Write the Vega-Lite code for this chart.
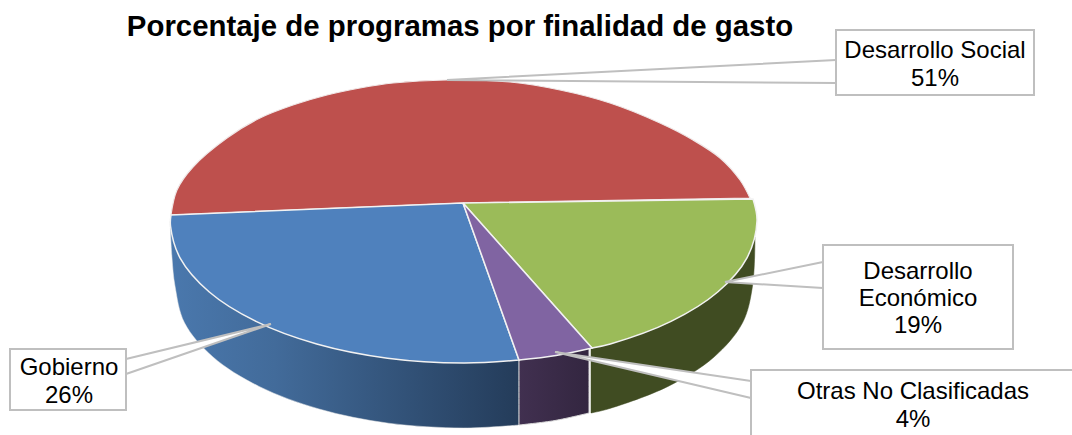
{"$schema":"https://vega.github.io/schema/vega-lite/v6.json","width":1072,"height":435,"padding":0,"autosize":"none","background":"white","view":{"stroke":null},
"title":{"text":"Porcentaje de programas por finalidad de gasto","frame":"group","anchor":"middle","dx":-76,"dy":46,"font":"Liberation Sans","fontSize":29.4,"fontWeight":"bold","color":"#000000"},
"datasets":{
"outline":[
{"s":"BlueSide","i":1,"x":170,"y":221},{"s":"BlueSide","i":2,"x":170,"y":221},{"s":"BlueSide","i":3,"x":172,"y":258},{"s":"BlueSide","i":4,"x":175,"y":286},{"s":"BlueSide","i":5,"x":184.5,"y":322.8},{"s":"BlueSide","i":6,"x":213,"y":357},{"s":"BlueSide","i":7,"x":259,"y":386.4},{"s":"BlueSide","i":8,"x":319,"y":409},{"s":"BlueSide","i":9,"x":388.5,"y":423.2},{"s":"BlueSide","i":10,"x":463.5,"y":428},{"s":"BlueSide","i":11,"x":519,"y":425},{"s":"BlueSide","i":12,"x":519,"y":425},{"s":"BlueSide","i":13,"x":519,"y":360},{"s":"BlueSide","i":14,"x":519,"y":360},
{"s":"PurpleSide","i":1,"x":519,"y":360},{"s":"PurpleSide","i":2,"x":519,"y":360},{"s":"PurpleSide","i":3,"x":589,"y":348},{"s":"PurpleSide","i":4,"x":589,"y":348},{"s":"PurpleSide","i":5,"x":589,"y":413},{"s":"PurpleSide","i":6,"x":589,"y":413},{"s":"PurpleSide","i":7,"x":555,"y":420.5},{"s":"PurpleSide","i":8,"x":519,"y":425},{"s":"PurpleSide","i":9,"x":519,"y":425},{"s":"PurpleSide","i":10,"x":519,"y":360},{"s":"PurpleSide","i":11,"x":519,"y":360},
{"s":"GreenSide","i":1,"x":755,"y":237},{"s":"GreenSide","i":2,"x":755,"y":237},{"s":"GreenSide","i":3,"x":752.5,"y":286},{"s":"GreenSide","i":4,"x":742.5,"y":322.8},{"s":"GreenSide","i":5,"x":714,"y":357},{"s":"GreenSide","i":6,"x":668,"y":386.4},{"s":"GreenSide","i":7,"x":608,"y":409},{"s":"GreenSide","i":8,"x":591,"y":413},{"s":"GreenSide","i":9,"x":591,"y":413},{"s":"GreenSide","i":10,"x":591,"y":348},{"s":"GreenSide","i":11,"x":591,"y":348},
{"s":"Desarrollo Social","i":1,"x":463,"y":203},{"s":"Desarrollo Social","i":2,"x":463,"y":203},{"s":"Desarrollo Social","i":3,"x":171,"y":215},{"s":"Desarrollo Social","i":4,"x":171,"y":215},{"s":"Desarrollo Social","i":5,"x":177,"y":190},{"s":"Desarrollo Social","i":6,"x":193,"y":167},{"s":"Desarrollo Social","i":7,"x":227,"y":138},{"s":"Desarrollo Social","i":8,"x":260,"y":118},{"s":"Desarrollo Social","i":9,"x":293,"y":105},{"s":"Desarrollo Social","i":10,"x":327,"y":95},{"s":"Desarrollo Social","i":11,"x":360,"y":88},{"s":"Desarrollo Social","i":12,"x":393,"y":83},{"s":"Desarrollo Social","i":13,"x":447,"y":80},{"s":"Desarrollo Social","i":14,"x":510,"y":82},{"s":"Desarrollo Social","i":15,"x":560,"y":90},{"s":"Desarrollo Social","i":16,"x":610,"y":103},{"s":"Desarrollo Social","i":17,"x":660,"y":123},{"s":"Desarrollo Social","i":18,"x":693,"y":140},{"s":"Desarrollo Social","i":19,"x":720,"y":158},{"s":"Desarrollo Social","i":20,"x":740,"y":180},{"s":"Desarrollo Social","i":21,"x":750,"y":198},{"s":"Desarrollo Social","i":22,"x":750,"y":198},{"s":"Desarrollo Social","i":23,"x":463,"y":203},{"s":"Desarrollo Social","i":24,"x":463,"y":203},
{"s":"Gobierno","i":1,"x":463,"y":203},{"s":"Gobierno","i":2,"x":463,"y":203},{"s":"Gobierno","i":3,"x":519,"y":360},{"s":"Gobierno","i":4,"x":519,"y":360},{"s":"Gobierno","i":5,"x":463.5,"y":363},{"s":"Gobierno","i":6,"x":387.5,"y":358.2},{"s":"Gobierno","i":7,"x":316.7,"y":344},{"s":"Gobierno","i":8,"x":256,"y":321.4},{"s":"Gobierno","i":9,"x":209.3,"y":292},{"s":"Gobierno","i":10,"x":180,"y":257.8},{"s":"Gobierno","i":11,"x":170.5,"y":226},{"s":"Gobierno","i":12,"x":171,"y":215},{"s":"Gobierno","i":13,"x":171,"y":215},{"s":"Gobierno","i":14,"x":463,"y":203},{"s":"Gobierno","i":15,"x":463,"y":203},
{"s":"Otras No Clasificadas","i":1,"x":463,"y":203},{"s":"Otras No Clasificadas","i":2,"x":463,"y":203},{"s":"Otras No Clasificadas","i":3,"x":592,"y":348},{"s":"Otras No Clasificadas","i":4,"x":592,"y":348},{"s":"Otras No Clasificadas","i":5,"x":556,"y":355.5},{"s":"Otras No Clasificadas","i":6,"x":519,"y":360},{"s":"Otras No Clasificadas","i":7,"x":519,"y":360},{"s":"Otras No Clasificadas","i":8,"x":463,"y":203},{"s":"Otras No Clasificadas","i":9,"x":463,"y":203},
{"s":"Desarrollo Económico","i":1,"x":463,"y":203},{"s":"Desarrollo Económico","i":2,"x":463,"y":203},{"s":"Desarrollo Económico","i":3,"x":753,"y":199},{"s":"Desarrollo Económico","i":4,"x":753,"y":199},{"s":"Desarrollo Económico","i":5,"x":757,"y":221},{"s":"Desarrollo Económico","i":6,"x":747,"y":257.8},{"s":"Desarrollo Económico","i":7,"x":717.7,"y":292},{"s":"Desarrollo Económico","i":8,"x":671,"y":321.4},{"s":"Desarrollo Económico","i":9,"x":610.3,"y":344},{"s":"Desarrollo Económico","i":10,"x":592,"y":348},{"s":"Desarrollo Económico","i":11,"x":592,"y":348},{"s":"Desarrollo Económico","i":12,"x":463,"y":203},{"s":"Desarrollo Económico","i":13,"x":463,"y":203},
{"s":"L1","i":1,"x":836,"y":60},{"s":"L1","i":2,"x":447,"y":80},{"s":"L1","i":3,"x":836,"y":83},
{"s":"L2","i":1,"x":126,"y":359},{"s":"L2","i":2,"x":271,"y":324},{"s":"L2","i":3,"x":126,"y":374},
{"s":"L3","i":1,"x":823,"y":262},{"s":"L3","i":2,"x":725,"y":282},{"s":"L3","i":3,"x":823,"y":288},
{"s":"L4","i":1,"x":751,"y":381},{"s":"L4","i":2,"x":555,"y":352},{"s":"L4","i":3,"x":751,"y":398}
],
"boxes":[
{"name":"Desarrollo Social","x":836,"x2":1034,"y":30,"y2":95},
{"name":"Gobierno","x":10,"x2":126,"y":349,"y2":410},
{"name":"Desarrollo Económico","x":823,"x2":1013,"y":245,"y2":349},
{"name":"Otras No Clasificadas","x":751,"x2":1085,"y":370,"y2":450}
],
"labels":[
{"t":"Desarrollo Social","x":935,"y":51},{"t":"51%","x":935,"y":79},
{"t":"Gobierno","x":69,"y":368},{"t":"26%","x":69,"y":396},
{"t":"Desarrollo","x":918,"y":272},{"t":"Económico","x":918,"y":299},{"t":"19%","x":918,"y":326},
{"t":"Otras No Clasificadas","x":913,"y":392},{"t":"4%","x":913,"y":420}
]},
"encoding":{
"x":{"field":"x","type":"quantitative","axis":null,"scale":{"domain":[0,1072],"nice":false,"zero":false}},
"y":{"field":"y","type":"quantitative","axis":null,"scale":{"domain":[435,0],"nice":false,"zero":false}}
},
"layer":[
{"data":{"name":"outline"},"transform":[{"filter":"datum.s=='BlueSide'"}],"mark":{"type":"line","interpolate":"catmull-rom","fill":{"gradient":"linear","x1":0,"x2":1,"y1":0,"y2":0,"stops":[{"offset":0,"color":"#4a78ad"},{"offset":0.3,"color":"#426b9a"},{"offset":1,"color":"#243c5a"}]},"stroke":"#e8e8e8","strokeWidth":0.5},"encoding":{"order":{"field":"i"}}},
{"data":{"name":"outline"},"transform":[{"filter":"datum.s=='PurpleSide'"}],"mark":{"type":"line","interpolate":"catmull-rom","fill":{"gradient":"linear","x1":0,"x2":1,"y1":0,"y2":0,"stops":[{"offset":0,"color":"#413050"},{"offset":1,"color":"#332640"}]},"stroke":"#d8d8d8","strokeWidth":1},"encoding":{"order":{"field":"i"}}},
{"data":{"name":"outline"},"transform":[{"filter":"datum.s=='GreenSide'"}],"mark":{"type":"line","interpolate":"catmull-rom","fill":"#404c22","stroke":"#404c22","strokeWidth":0.5},"encoding":{"order":{"field":"i"}}},
{"data":{"name":"outline"},"transform":[{"filter":"datum.s=='Desarrollo Social'"}],"mark":{"type":"line","interpolate":"catmull-rom","fill":"#BE504D","stroke":"#f0e8e8","strokeWidth":1.2},"encoding":{"order":{"field":"i"}}},
{"data":{"name":"outline"},"transform":[{"filter":"datum.s=='Desarrollo Económico'"}],"mark":{"type":"line","interpolate":"catmull-rom","fill":"#9BBB59","stroke":"#f2f2f2","strokeWidth":1.5},"encoding":{"order":{"field":"i"}}},
{"data":{"name":"outline"},"transform":[{"filter":"datum.s=='Gobierno'"}],"mark":{"type":"line","interpolate":"catmull-rom","fill":"#4F81BD","stroke":"#f2f2f2","strokeWidth":1.5},"encoding":{"order":{"field":"i"}}},
{"data":{"name":"outline"},"transform":[{"filter":"datum.s=='Otras No Clasificadas'"}],"mark":{"type":"line","interpolate":"catmull-rom","fill":"#8064A2","stroke":"#f2f2f2","strokeWidth":1.5},"encoding":{"order":{"field":"i"}}},
{"data":{"name":"outline"},"transform":[{"filter":"test(/^L[0-9]/,datum.s)"}],"mark":{"type":"line","fill":"#ffffff","stroke":"#bfbfbf","strokeWidth":2},"encoding":{"order":{"field":"i"},"detail":{"field":"s"}}},
{"data":{"name":"boxes"},"mark":{"type":"rect","fill":"#ffffff","stroke":"#bfbfbf","strokeWidth":2,"clip":true},"encoding":{"x2":{"field":"x2"},"y2":{"field":"y2"}}},
{"data":{"name":"labels"},"mark":{"type":"text","font":"Liberation Sans","fontSize":24,"align":"center","baseline":"middle","color":"#000000"},"encoding":{"text":{"field":"t"}}}
]}
